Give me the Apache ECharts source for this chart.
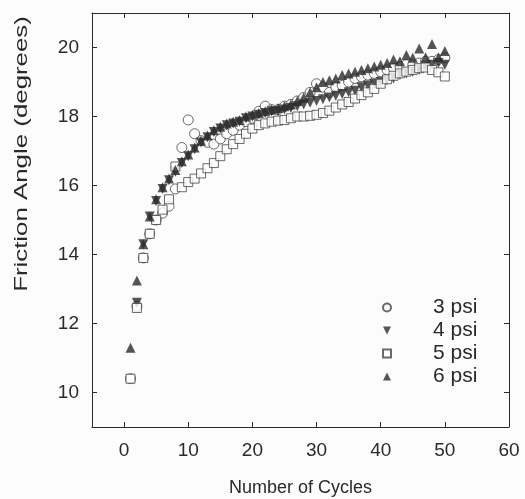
<!DOCTYPE html>
<html>
<head>
<meta charset="utf-8">
<script src="https://cdn.jsdelivr.net/npm/echarts@6/dist/echarts.min.js"></script>
<style>
  html, body { margin: 0; padding: 0; background: #fcfcfc; }
  #chart { width: 525px; height: 499px; }
</style>
</head>
<body>
<div id="chart"></div>
<script>
// cycle number on x
const cycles = [1,2,3,4,5,6,7,8,9,10,11,12,13,14,15,16,17,18,19,20,21,22,23,24,25,
  26,27,28,29,30,31,32,33,34,35,36,37,38,39,40,41,42,43,44,45,46,47,48,49,50];

// friction angle (degrees)
const psi3 = [10.4,12.5,13.9,14.6,15.0,15.2,15.4,15.9,17.1,17.9,17.5,17.3,17.25,17.2,17.35,17.5,17.6,17.75,17.85,17.95,
  18.15,18.3,18.2,18.2,18.3,18.35,18.45,18.55,18.7,18.95,18.85,18.7,18.85,18.9,19.0,19.1,19.15,19.2,19.25,19.3,
  19.35,19.4,19.45,19.5,19.5,19.55,19.6,19.6,19.65,19.7];
const psi4 = [null,12.6,14.3,15.1,15.55,15.9,16.15,16.4,16.65,16.85,17.05,17.25,17.4,17.55,17.65,17.75,17.8,17.85,17.95,18.0,
  18.05,18.1,18.15,18.15,18.2,18.25,18.3,18.35,18.4,18.45,18.5,18.55,18.6,18.65,18.7,18.75,18.85,18.9,18.95,19.0,
  19.05,19.1,19.2,19.25,19.3,19.35,19.45,19.5,19.55,19.5];
const psi5 = [10.4,12.45,13.9,14.6,15.0,15.3,15.6,16.55,15.95,16.1,16.2,16.35,16.5,16.65,16.85,17.05,17.2,17.35,17.5,17.65,
  17.75,17.8,17.85,17.88,17.9,17.95,18.0,18.0,18.02,18.05,18.1,18.17,18.26,18.35,18.42,18.52,18.62,18.7,18.8,18.95,
  19.08,19.18,19.25,19.3,19.35,19.4,19.42,19.35,19.28,19.16];
const psi6 = [11.3,13.25,14.3,15.1,15.6,15.95,16.2,16.45,16.7,16.9,17.1,17.3,17.45,17.6,17.7,17.8,17.85,17.9,18.0,18.05,
  18.1,18.15,18.2,18.25,18.3,18.35,18.45,18.55,18.7,18.85,19.0,19.05,19.1,19.2,19.25,19.3,19.35,19.4,19.45,19.5,
  19.55,19.65,19.6,19.78,19.7,19.97,19.72,20.1,19.72,19.9];

const xTicks = [0,10,20,30,40,50,60];
const yTicks = [10,12,14,16,18,20];

const ink = '#2a2a2a';
const font = 'Liberation Sans, Arial, sans-serif';

const pairs = (ys) => cycles.map((c, i) => [c, ys[i]]).filter(p => p[1] != null);

const axisCommon = {
  axisLine: { show: true, onZero: false, lineStyle: { color: ink, width: 1 } },
  axisTick: { show: true, inside: true, length: 5, lineStyle: { color: ink } },
  splitLine: { show: false }
};

const chart = echarts.init(document.getElementById('chart'));
chart.setOption({
  backgroundColor: '#fcfcfc',
  animation: false,
  grid: { left: 92, right: 16, top: 13, bottom: 72, containLabel: false, outerBoundsMode: 'none' },
  xAxis: [
    Object.assign({}, axisCommon, {
      type: 'value', min: -5, max: 60, position: 'bottom',
      axisTick: Object.assign({}, axisCommon.axisTick, { customValues: xTicks }),
      axisLabel: { customValues: xTicks, margin: 14, color: ink, fontSize: 19, fontFamily: font },
      name: 'Number of Cycles', nameLocation: 'middle', nameGap: 52,
      nameTextStyle: { color: ink, fontSize: 18, fontFamily: font }
    }),
    Object.assign({}, axisCommon, {
      type: 'value', min: -5, max: 60, position: 'top',
      axisTick: Object.assign({}, axisCommon.axisTick, { customValues: xTicks }),
      axisLabel: { show: false }
    })
  ],
  yAxis: [
    Object.assign({}, axisCommon, {
      type: 'value', min: 9, max: 21, position: 'left',
      axisTick: Object.assign({}, axisCommon.axisTick, { customValues: yTicks }),
      axisLabel: { customValues: yTicks, margin: 13, color: ink, fontSize: 19, fontFamily: font }
    }),
    Object.assign({}, axisCommon, {
      type: 'value', min: 9, max: 21, position: 'right',
      axisTick: Object.assign({}, axisCommon.axisTick, { customValues: yTicks }),
      axisLabel: { show: false }
    })
  ],
  // y title is drawn stretched along its length, as in the scan
  graphic: [{
    type: 'text', x: 22, y: 154, rotation: Math.PI / 2, scaleX: 1.36,
    style: { text: 'Friction Angle (degrees)', fill: ink, fontSize: 19, fontFamily: font,
      align: 'center', verticalAlign: 'middle' }
  }],
  legend: {
    orient: 'vertical', left: 382, top: 297, padding: 0,
    itemWidth: 8, itemHeight: 8, itemGap: 2,
    textStyle: { color: ink, fontSize: 21, lineHeight: 21, fontFamily: font, padding: [0, 0, 0, 37] },
    data: [
      { name: '3 psi' },
      { name: '4 psi', icon: 'path://M0,0L10,0L5,10Z' },
      { name: '5 psi' },
      { name: '6 psi' }
    ]
  },
  series: [
    { name: '3 psi', type: 'scatter', data: pairs(psi3), symbol: 'circle', symbolSize: 10,
      itemStyle: { color: '#fff', borderColor: '#444', borderWidth: 1 } },
    { name: '4 psi', type: 'scatter', data: pairs(psi4), symbol: 'triangle', symbolRotate: 180, symbolSize: 10,
      itemStyle: { color: ink } },
    { name: '5 psi', type: 'scatter', data: pairs(psi5), symbol: 'rect', symbolSize: 9,
      itemStyle: { color: '#fff', borderColor: '#444', borderWidth: 1 } },
    { name: '6 psi', type: 'scatter', data: pairs(psi6), symbol: 'triangle', symbolSize: 10,
      itemStyle: { color: ink } }
  ]
});
</script>
</body>
</html>
